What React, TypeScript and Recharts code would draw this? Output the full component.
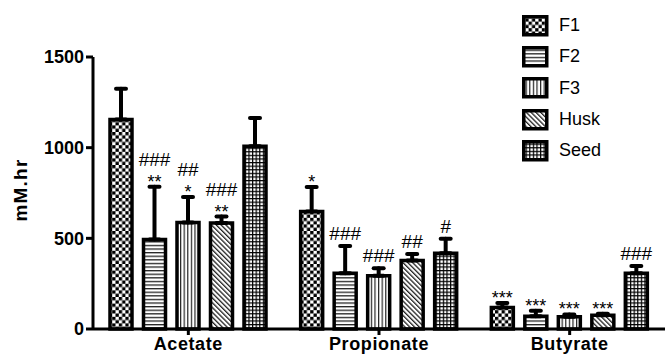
import React from "react";
import { Bar, BarChart, ErrorBar, LabelList, Legend, XAxis, YAxis } from "recharts";

const categories = ["Acetate", "Propionate", "Butyrate"];

const f1Values = [1155, 648, 118];
const f1Errors = [170, 135, 25];
const f2Values = [494, 308, 70];
const f2Errors = [290, 150, 30];
const f3Values = [588, 293, 68];
const f3Errors = [140, 42, 12];
const huskValues = [585, 378, 76];
const huskErrors = [35, 35, 8];
const seedValues = [1008, 418, 308];
const seedErrors = [155, 80, 40];

// significance marks drawn above each error bar
const f1Stars = ["", "*", "***"];
const f1Hashes = ["", "", ""];
const f2Stars = ["**", "", "***"];
const f2Hashes = ["###", "###", ""];
const f3Stars = ["*", "", "***"];
const f3Hashes = ["##", "###", ""];
const huskStars = ["**", "", "***"];
const huskHashes = ["###", "##", ""];
const seedStars = ["", "", ""];
const seedHashes = ["", "#", "###"];

const yTicks = [0, 500, 1000, 1500];

const series = [
  { key: "F1", values: f1Values, errors: f1Errors, stars: f1Stars, hashes: f1Hashes, pattern: "pat-check" },
  { key: "F2", values: f2Values, errors: f2Errors, stars: f2Stars, hashes: f2Hashes, pattern: "pat-horiz" },
  { key: "F3", values: f3Values, errors: f3Errors, stars: f3Stars, hashes: f3Hashes, pattern: "pat-vert" },
  { key: "Husk", values: huskValues, errors: huskErrors, stars: huskStars, hashes: huskHashes, pattern: "pat-diag" },
  { key: "Seed", values: seedValues, errors: seedErrors, stars: seedStars, hashes: seedHashes, pattern: "pat-grid" },
];

const chartData = categories.map((name, i) => {
  const row: any = { name };
  series.forEach((s) => {
    row[s.key] = s.values[i];
    row[s.key + "Err"] = [0, s.errors[i]];
  });
  return row;
});

const FONT = "'Liberation Sans', Arial, sans-serif";

function Patterns() {
  return (
    <svg width={0} height={0} style={{ position: "absolute" }}>
      <defs>
        <pattern id="pat-check" width={6.6} height={6.6} patternUnits="userSpaceOnUse">
          <rect width={6.6} height={6.6} fill="#fff" />
          <rect x={0} y={0} width={3.3} height={3.3} fill="#000" />
          <rect x={3.3} y={3.3} width={3.3} height={3.3} fill="#000" />
        </pattern>
        <pattern id="pat-horiz" width={4} height={3.6} patternUnits="userSpaceOnUse">
          <rect width={4} height={3.6} fill="#fff" />
          <rect x={0} y={0} width={4} height={1.3} fill="#222" />
        </pattern>
        <pattern id="pat-vert" width={3.6} height={4} patternUnits="userSpaceOnUse">
          <rect width={3.6} height={4} fill="#fff" />
          <rect x={0} y={0} width={1.2} height={4} fill="#222" />
        </pattern>
        <pattern id="pat-diag" width={3.4} height={4} patternUnits="userSpaceOnUse" patternTransform="rotate(-45)">
          <rect width={3.4} height={4} fill="#fff" />
          <rect x={0} y={0} width={1.3} height={4} fill="#222" />
        </pattern>
        <pattern id="pat-grid" width={3.6} height={3.6} patternUnits="userSpaceOnUse">
          <rect width={3.6} height={3.6} fill="#fff" />
          <rect x={0} y={0} width={3.6} height={1.2} fill="#000" />
          <rect x={0} y={0} width={1.2} height={3.6} fill="#000" />
        </pattern>
      </defs>
    </svg>
  );
}

const makeMarks = (s: (typeof series)[number]) => (props: any) => {
  const { x, y, width, height, index, value } = props;
  const err = s.errors[index];
  const capY = y - (err * height) / value;
  const cx = x + width / 2;
  const stars = s.stars[index];
  const hashes = s.hashes[index];
  return (
    <g>
      {stars && (
        <text x={cx} y={capY + 1} textAnchor="middle" fontSize={18} fontFamily={FONT} fill="#000">
          {stars}
        </text>
      )}
      {hashes && (
        <text x={cx} y={stars ? capY - 21 : capY - 6} textAnchor="middle" fontSize={19} fontFamily={FONT} fill="#000">
          {hashes}
        </text>
      )}
    </g>
  );
};

function LegendContent() {
  return (
    <div style={{ fontFamily: FONT }}>
      {series.map((s) => (
        <div key={s.key} style={{ display: "flex", alignItems: "center", height: 31.3 }}>
          <svg width={27} height={22} style={{ display: "block" }}>
            <rect x={1.75} y={1.75} width={23} height={18} fill={`url(#${s.pattern})`} stroke="#000" strokeWidth={3.5} />
          </svg>
          <span style={{ marginLeft: 10, fontSize: 18, color: "#000" }}>{s.key}</span>
        </div>
      ))}
    </div>
  );
}

export default function App() {
  return (
    <div style={{ position: "absolute", left: 0, top: 0, width: 665, height: 356, background: "#fff" }}>
      <Patterns />
      <BarChart
        width={665}
        height={356}
        data={chartData}
        margin={{ top: 57, right: 0, bottom: 0, left: 0 }}
        barSize={22}
        barGap={11.5}
      >
        <XAxis
          dataKey="name"
          height={27}
          interval={0}
          axisLine={{ stroke: "#000", strokeWidth: 3 }}
          tickLine={{ stroke: "#000", strokeWidth: 3 }}
          tickSize={6}
          tick={{ fill: "#000", fontSize: 18, fontWeight: "bold", fontFamily: FONT, letterSpacing: 0.6 }}
        />
        <YAxis
          width={93}
          domain={[0, 1500]}
          ticks={yTicks}
          interval={0}
          axisLine={{ stroke: "#000", strokeWidth: 3 }}
          tickLine={{ stroke: "#000", strokeWidth: 3 }}
          tickSize={7}
          tick={{ fill: "#000", fontSize: 18, fontWeight: "bold", fontFamily: FONT }}
          label={{
            content: (p: any) => {
              const vb = p.viewBox;
              const cx = vb.x + 20;
              const cy = vb.y + vb.height / 2 - 3;
              return (
                <text
                  x={cx}
                  y={cy}
                  transform={`rotate(-90 ${cx} ${cy})`}
                  textAnchor="middle"
                  dominantBaseline="central"
                  fontSize={19}
                  fontWeight="bold"
                  fontFamily={FONT}
                  letterSpacing={1.2}
                  fill="#000"
                >
                  mM.hr
                </text>
              );
            },
          }}
        />
        <Legend
          layout="vertical"
          align="center"
          verticalAlign="middle"
          content={<LegendContent />}
          wrapperStyle={{ left: 522, top: 10, width: 120 }}
        />
        {series.map((s) => (
          <Bar
            key={s.key}
            dataKey={s.key}
            name={s.key}
            fill={`url(#${s.pattern})`}
            stroke="#000"
            strokeWidth={3.5}
            isAnimationActive={false}
          >
            <ErrorBar
              dataKey={s.key + "Err"}
              direction="y"
              width={5}
              stroke="#000"
              strokeWidth={4}
              strokeLinecap="round"
            />
            <LabelList dataKey={s.key} content={makeMarks(s)} />
          </Bar>
        ))}
      </BarChart>
    </div>
  );
}
